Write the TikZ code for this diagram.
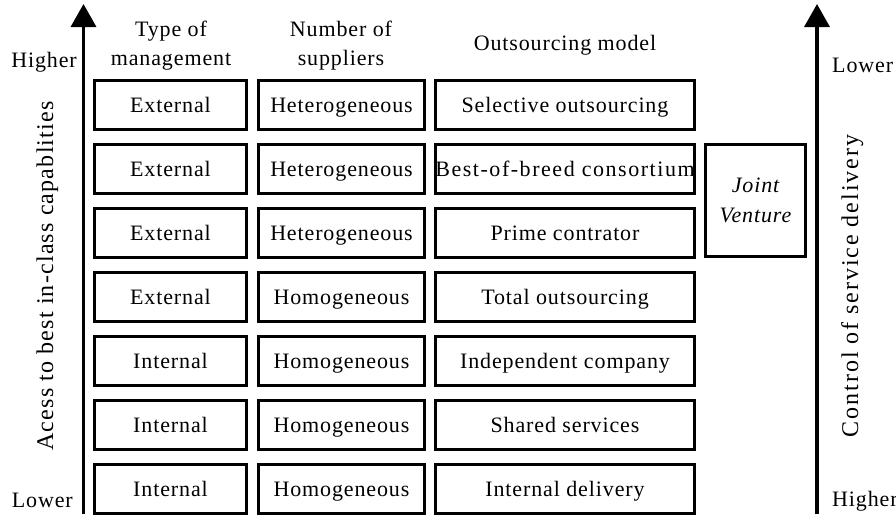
\documentclass[tikz,border=0pt]{standalone}
\usepackage{fontspec}
\setmainfont{Liberation Serif}[LetterSpace=4]
\usetikzlibrary{arrows.meta}

\begin{document}
\begin{tikzpicture}[
      x = 1pt, y = -1pt,
      every node/.style = {
        black, inner sep = 0pt, font = \fontsize{22}{29}\selectfont},
      box/.style = {draw, line width = 3pt},
      cell/.style = {
        box, minimum height = 49pt, text height = 14pt, text depth = 0pt},
      mgmt/.style = {cell, minimum width = 152pt},
      supp/.style = {cell, minimum width = 166pt},
      model/.style = {cell, minimum width = 259pt},
      side/.style = {rotate = 90, anchor = base},
      axis/.style = {
        line width = 3.5pt, -{Triangle[length=23pt, width=25pt]}}
      ]
    \useasboundingbox (0,0) rectangle (896,515);

    % headers
    \node[align = center, anchor = base] (hmgmt) at (171,65) {Type of\\management};
    \node[align = center, anchor = base] (hsupp) at (341,65) {Number of\\suppliers};
    \node[anchor = base] (hmodel) at (565,50) {Outsourcing model};

    % rows
    \node[mgmt] (m1) at (170.5,105) {External}; % 1
    \node[mgmt] (m2) at (170.5,169) {External}; % 2
    \node[mgmt] (m3) at (170.5,233) {External}; % 3
    \node[mgmt] (m4) at (170.5,297) {External}; % 4
    \node[mgmt] (m5) at (170.5,361) {Internal}; % 5
    \node[mgmt] (m6) at (170.5,425) {Internal}; % 6
    \node[mgmt] (m7) at (170.5,489) {Internal}; % 7

    \node[supp] (s1) at (341.5,105) {Heterogeneous};
    \node[supp] (s2) at (341.5,169) {Heterogeneous};
    \node[supp] (s3) at (341.5,233) {Heterogeneous};
    \node[supp] (s4) at (341.5,297) {Homogeneous};
    \node[supp] (s5) at (341.5,361) {Homogeneous};
    \node[supp] (s6) at (341.5,425) {Homogeneous};
    \node[supp] (s7) at (341.5,489) {Homogeneous};

    \node[model] (o1) at (565,105) {Selective outsourcing};
    \node[model] (o2) at (565,169) {\addfontfeature{LetterSpace=7}Best-of-breed consortium};
    \node[model] (o3) at (565,233) {Prime contrator};
    \node[model] (o4) at (565,297) {Total outsourcing};
    \node[model] (o5) at (565,361) {Independent company};
    \node[model] (o6) at (565,425) {Shared services};
    \node[model] (o7) at (565,489) {Internal delivery};

    \node[box, minimum width = 100pt, minimum height = 112pt, align = center,
          font = \fontsize{22}{30}\selectfont\itshape]
          (jv) at (755.5,200.5) {Joint\\Venture};

    % left axis
    \coordinate (lbot) at (83.5,514);
    \coordinate (ltop) at (83.5,4);
    \draw[axis] (lbot) -- (ltop);
    \node[anchor = base east] (lhigh) at (77,67) {Higher};
    \node[anchor = base east] (llow) at (73,507) {Lower};
    \node[side, font = \fontsize{24}{29}\selectfont\addfontfeature{LetterSpace=5}]
          (lcap) at (53,276) {Acess to best in-class capablities};

    % right axis
    \coordinate (rbot) at (817,514);
    \coordinate (rtop) at (817,4);
    \draw[axis] (rbot) -- (rtop);
    \node[anchor = base west] (rlow) at (832,72) {Lower};
    \node[anchor = base west] (rhigh) at (832,506) {Higher};
    \node[side, font = \fontsize{24}{29}\selectfont\addfontfeature{LetterSpace=8}]
          (rcap) at (858,286) {Control of service delivery};
  \end{tikzpicture}
\end{document}
